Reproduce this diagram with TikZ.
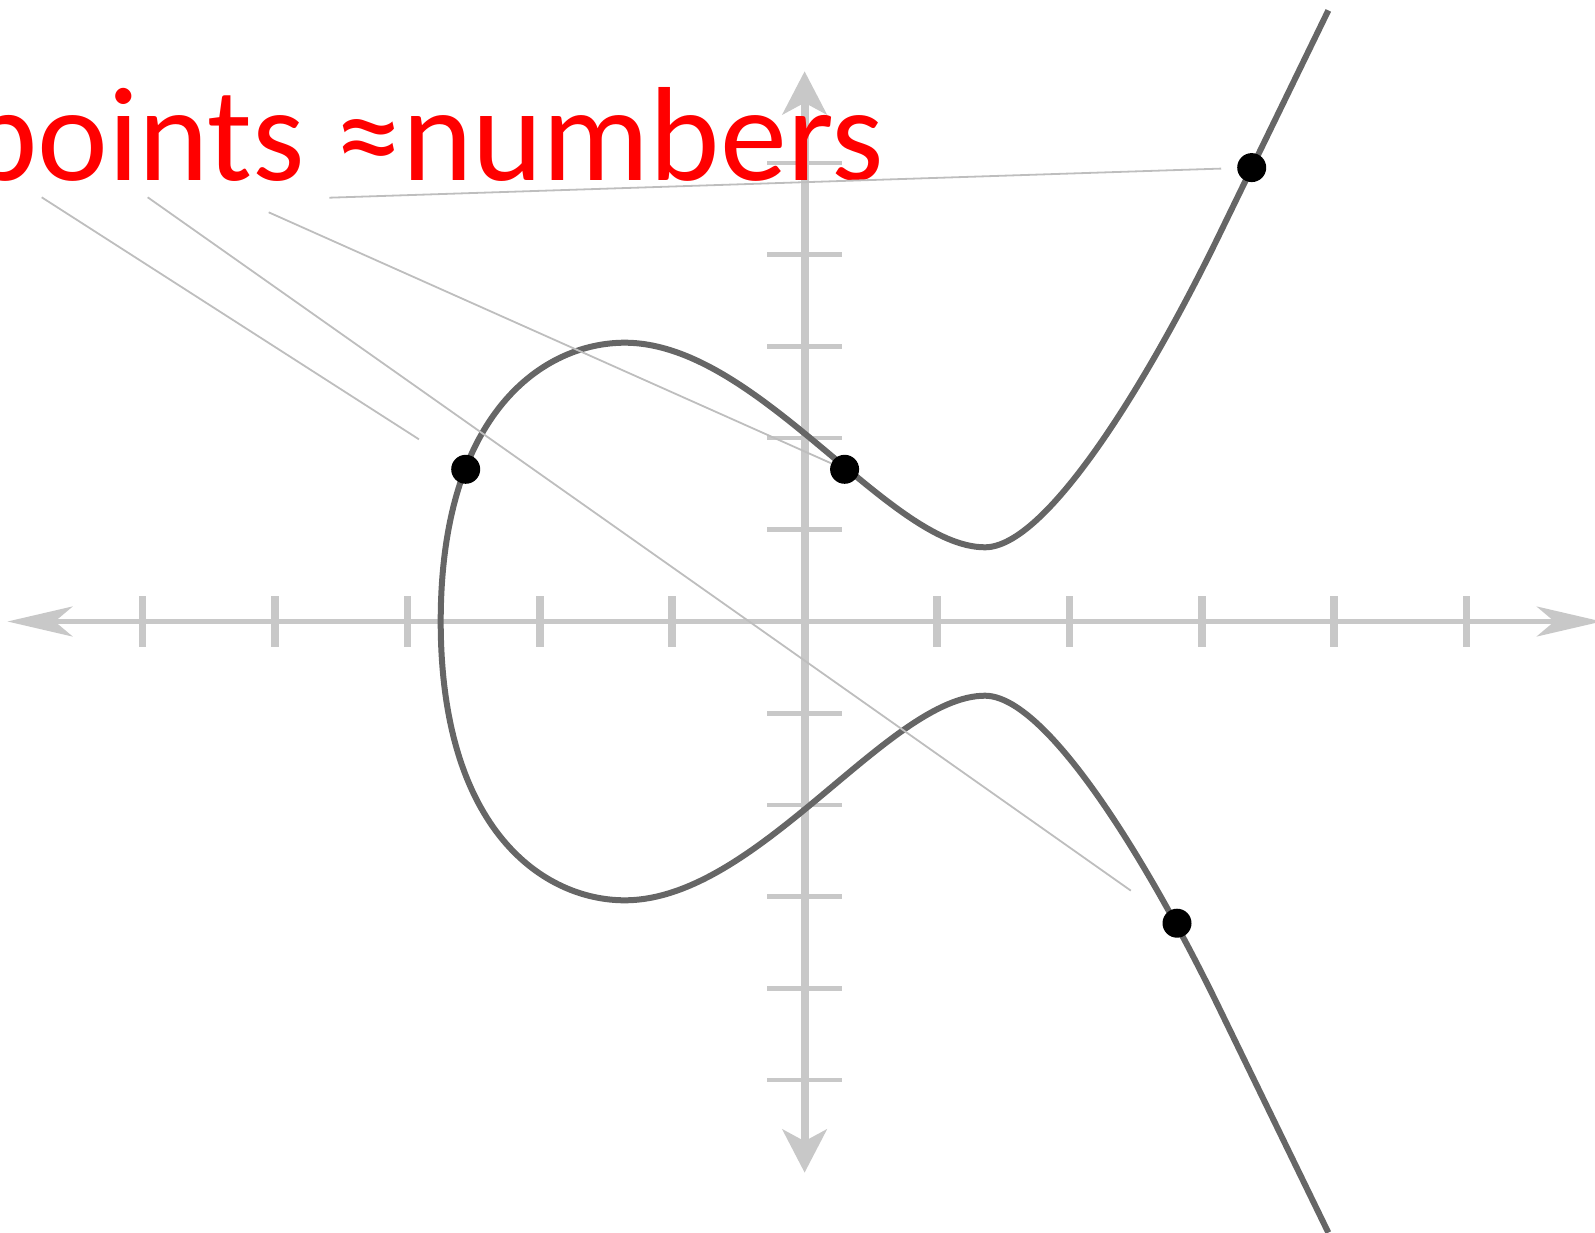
\documentclass[tikz,border=0pt]{standalone}
\usepackage{fontspec}
\newfontfamily\calfont{Carlito}
\usepackage{tikz}
\usetikzlibrary{arrows.meta}
\definecolor{axisgray}{HTML}{C8C8C8}
\definecolor{curvegray}{HTML}{666666}
\definecolor{pointergray}{HTML}{BEBEBE}

\begin{document}
\begin{tikzpicture}[x=1pt, y=-1pt,
  dot/.style={circle, fill=black, inner sep=0pt, outer sep=0pt, minimum size=29pt},
  pointer/.style={pointergray, line width=1.8pt}]
\useasboundingbox (0,0) rectangle (1595,1233);
\begin{scope}[shift={(804.6,621.5)}, x=132.4pt, y=91.7pt]
\draw[axisgray, line width=4.6pt, {Stealth[length=65pt, width=30pt, inset=17.7pt]}-{Stealth[length=65pt, width=30pt, inset=17.7pt]}] (-6.02,0) -- (6.02,0);
\draw[axisgray, line width=8pt, {Stealth[length=43pt, width=44pt, inset=11.6pt]}-{Stealth[length=43pt, width=44pt, inset=11.6pt]}] (0,-6.01) -- (0,6.0);
\foreach \i in {-5,-4,-3,-2,-1,1,2,3,4,5} {
  \draw[axisgray, line width=7.5pt] (\i,-0.278) -- (\i,0.278);
  \draw[axisgray, line width=4.7pt] (-0.282,\i) -- (0.282,\i);
}
\end{scope}
\draw[curvegray, line width=6pt, line join=round]
  (1328.3,10.4) -- (1216.7,240)
  .. controls (1143.2,390) and (1045,547.3) .. (985,547.3)
  .. controls (888.6,547.3) and (757.7,342.7) .. (624.7,342.7)
  .. controls (544.7,342.7) and (440.7,411.5) .. (440.7,621.5)
  .. controls (440.7,831.5) and (544.7,900.3) .. (624.7,900.3)
  .. controls (757.7,900.3) and (888.6,695.7) .. (985,695.7)
  .. controls (1045,695.7) and (1143.2,853) .. (1216.7,1003)
  -- (1328.3,1232.6);
\node[dot] (ptleft) at (465.7,469.3) {};
\node[dot] (ptmid) at (844.6,469.3) {};
\node[dot] (ptup) at (1251.7,167.6) {};
\node[dot] (ptlow) at (1177,923.2) {};
\node[anchor=base west, inner sep=0pt, text=red, font=\calfont\fontsize{134}{160}\selectfont] (title) at (-33,181) {points ≈numbers};
\coordinate (tleft) at (41.7,197.3);
\coordinate (tlow) at (147.7,197.3);
\coordinate (tmid) at (268.7,212.3);
\coordinate (tup) at (329.3,197.7);
\draw[pointer, shorten >=41pt] (tleft) -- (ptleft);
\draw[pointer, shorten >=42pt] (tlow) -- (ptlow);
\draw[pointer] (tmid) -- (ptmid);
\draw[pointer, shorten >=16pt] (tup) -- (ptup);
\end{tikzpicture}
\end{document}
